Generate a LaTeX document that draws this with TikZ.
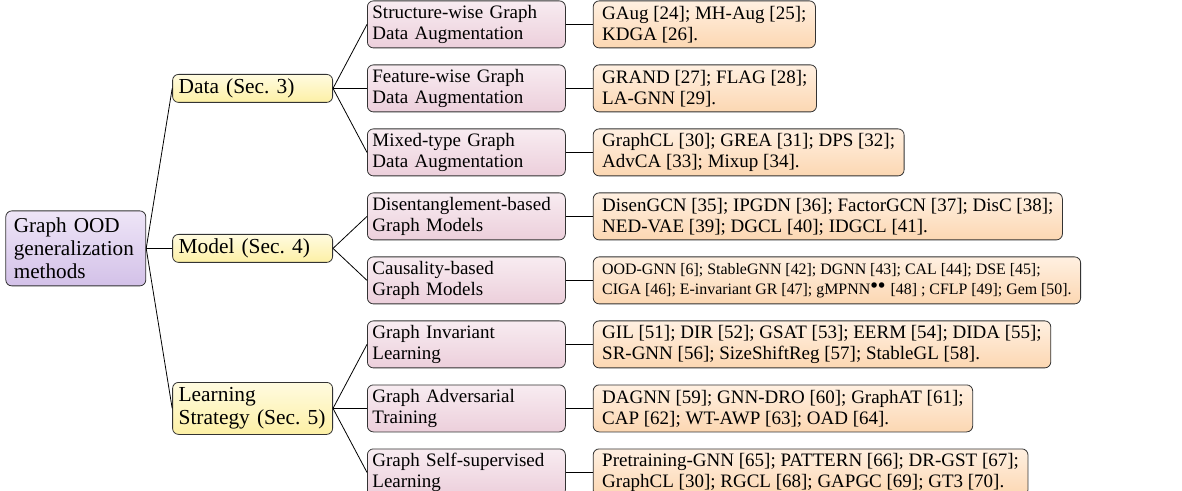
\documentclass[tikz,border=0pt]{standalone}
\usepackage{fontspec}
\setmainfont{Liberation Serif}
\usetikzlibrary{positioning, calc}
\definecolor{lilactop}{RGB}{238,229,247}
\definecolor{lilacbot}{RGB}{211,193,232}
\definecolor{lemontop}{RGB}{255,251,224}
\definecolor{lemonbot}{RGB}{253,240,165}
\definecolor{rosetop}{RGB}{248,236,241}
\definecolor{rosebot}{RGB}{236,207,219}
\definecolor{peachtop}{RGB}{255,240,225}
\definecolor{peachbot}{RGB}{252,215,178}

\begin{document}
\frenchspacing
\begin{tikzpicture}[
        x=0.5pt, y=-0.5pt,
        overview/.style={rectangle, draw=black!80, rounded corners=3pt, align=left, text width=62pt, inner xsep=4pt, inner ysep=2pt, minimum height=37.5pt, top color=lilactop, bottom color=lilacbot, font=\fontsize{10.6}{11.6}\selectfont},
        part/.style={rectangle, draw=black!80, rounded corners=3pt, align=left, text width=74pt, inner xsep=3pt, inner ysep=2pt, minimum height=14pt, top color=lemontop, bottom color=lemonbot, font=\fontsize{10.7}{11.6}\selectfont},
        family/.style={rectangle, draw=black!80, rounded corners=3pt, align=left, text width=94pt, inner xsep=2.5pt, inner ysep=1.5pt, minimum height=23.5pt, top color=rosetop, bottom color=rosebot, font=\fontsize{9.5}{10.5}\selectfont},
        works/.style={rectangle, draw=black!80, rounded corners=3pt, align=left, inner xsep=4.5pt, inner ysep=1.5pt, minimum height=23.5pt, top color=peachtop, bottom color=peachbot, font=\fontsize{9.5}{10.5}\selectfont},
        link/.style={draw, black},
        node distance=8.1pt and 13.5pt
        ]

        \useasboundingbox (0,0) rectangle (1182,491);

        % Second level
        \node (structure) [family, anchor=north west] at (367,0.5) {Structure-wise Graph\\Data Augmentation};
        \node (feature) [family, below=of structure] {Feature-wise Graph\\Data Augmentation};
        \node (mixed) [family, below=of feature] {Mixed-type Graph\\Data Augmentation};
        \node (disent) [family, below=of mixed] {Disentanglement-based\\Graph Models};
        \node (causal) [family, below=of disent] {Causality-based\\Graph Models};
        \node (invariant) [family, below=of causal] {Graph Invariant\\Learning};
        \node (adversarial) [family, below=of invariant] {Graph Adversarial\\Training};
        \node (selfsup) [family, below=of adversarial] {Graph Self-supervised\\Learning};

        % Leaves
        \node (gaug) [works, right=of structure] {GAug [24]; MH-Aug [25];\\KDGA [26].};
        \node (grand) [works, right=of feature] {GRAND [27]; FLAG [28];\\LA-GNN [29].};
        \node (graphcl) [works, right=of mixed] {GraphCL [30]; GREA [31]; DPS [32];\\AdvCA [33]; Mixup [34].};
        \node (disengcn) [works, right=of disent] {DisenGCN [35]; IPGDN [36]; FactorGCN [37]; DisC [38];\\NED-VAE [39]; DGCL [40]; IDGCL [41].};
        \node (oodgnn) [works, right=of causal, font=\fontsize{7.95}{10}\selectfont] {OOD-GNN [6]; StableGNN [42]; DGNN [43]; CAL [44]; DSE [45];\\CIGA [46]; E-invariant GR [47]; gMPNN$^{\bullet\bullet}$ [48] ; CFLP [49]; Gem [50].};
        \node (gil) [works, right=of invariant] {GIL [51]; DIR [52]; GSAT [53]; EERM [54]; DIDA [55];\\SR-GNN [56]; SizeShiftReg [57]; StableGL [58].};
        \node (dagnn) [works, right=of adversarial] {DAGNN [59]; GNN-DRO [60]; GraphAT [61];\\CAP [62]; WT-AWP [63]; OAD [64].};
        \node (pretrain) [works, right=of selfsup] {Pretraining-GNN [65]; PATTERN [66]; DR-GST [67];\\GraphCL [30]; RGCL [68]; GAPGC [69]; GT3 [70].};

        % First level and root
        \coordinate (modelmid) at ($(disent.west)!0.5!(causal.west)$);
        \node (data) [part, left=17pt of feature] {Data (Sec. 3)};
        \node (model) [part, left=17pt of modelmid] {Model (Sec. 4)};
        \node (strategy) [part, minimum height=26pt, left=17pt of adversarial] {Learning\\Strategy (Sec. 5)};
        \node (overview) [overview, left=13pt of model] {Graph OOD\\generalization\\methods};

        % Connectors
        \draw [link] (overview.east) -- (data.west);
        \draw [link] (overview.east) -- (model.west);
        \draw [link] (overview.east) -- (strategy.west);
        \draw [link] (data.east) -- (structure.west);
        \draw [link] (data.east) -- (feature.west);
        \draw [link] (data.east) -- (mixed.west);
        \draw [link] (model.east) -- (disent.west);
        \draw [link] (model.east) -- (causal.west);
        \draw [link] (strategy.east) -- (invariant.west);
        \draw [link] (strategy.east) -- (adversarial.west);
        \draw [link] (strategy.east) -- (selfsup.west);
        \draw [link] (structure) -- (gaug);
        \draw [link] (feature) -- (grand);
        \draw [link] (mixed) -- (graphcl);
        \draw [link] (disent) -- (disengcn);
        \draw [link] (causal) -- (oodgnn);
        \draw [link] (invariant) -- (gil);
        \draw [link] (adversarial) -- (dagnn);
        \draw [link] (selfsup) -- (pretrain);

    \end{tikzpicture}
\end{document}
